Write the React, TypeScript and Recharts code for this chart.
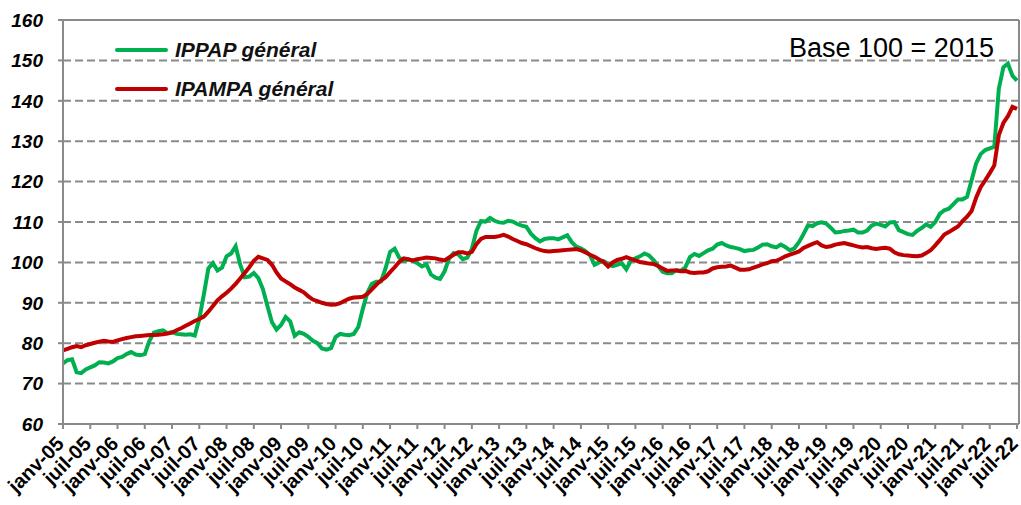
import { CartesianGrid, Line, LineChart, ReferenceLine, XAxis, YAxis } from "recharts";

const FONT = '"Liberation Sans", Arial, sans-serif';

const monthNames = ["janv", "févr", "mars", "avr", "mai", "juin", "juil", "août", "sept", "oct", "nov", "déc"];
const yearSuffixes = ["05", "06", "07", "08", "09", "10", "11", "12", "13", "14", "15", "16", "17", "18", "19", "20", "21", "22"];
const yTicks = [60, 70, 80, 90, 100, 110, 120, 130, 140, 150, 160];

// IPPAP général, monthly from janv-05 to juil-22
const ippap = [
  75.0, 75.8, 76.0, 72.8, 72.6, 73.5, 74.0, 74.5, 75.3, 75.2, 75.0, 75.5, // 2005
  76.3, 76.6, 77.3, 77.8, 77.2, 77.0, 77.3, 80.5, 82.6, 83.0, 83.2, 82.5, // 2006
  82.8, 82.3, 82.2, 82.1, 82.2, 81.9, 86.0, 92.0, 98.5, 99.8, 98.0, 98.7, // 2007
  101.5, 102.2, 104.0, 99.5, 96.3, 96.5, 97.4, 96.1, 93.4, 89.2, 85.2, 83.4, // 2008
  84.5, 86.5, 85.4, 81.8, 82.7, 82.3, 81.6, 80.6, 80.0, 78.7, 78.4, 78.8, // 2009
  81.5, 82.3, 82.1, 82.0, 82.3, 84.0, 88.5, 92.5, 94.7, 95.2, 95.3, 98.5, // 2010
  102.6, 103.4, 101.2, 100.4, 100.7, 100.4, 99.8, 99.0, 99.5, 97.0, 96.2, 95.9, // 2011
  97.8, 101.0, 102.3, 102.0, 100.8, 101.2, 103.3, 107.8, 110.2, 110.1, 111.0, 110.3, // 2012
  109.9, 109.8, 110.3, 110.1, 109.5, 109.1, 108.8, 107.1, 106.0, 105.2, 105.8, 106.0, // 2013
  106.0, 105.7, 106.2, 106.7, 105.0, 103.9, 103.5, 102.8, 101.8, 99.4, 100.0, 100.3, // 2014
  99.6, 99.1, 99.4, 99.8, 98.3, 100.4, 101.0, 101.5, 102.2, 101.7, 100.6, 99.1, // 2015
  97.7, 97.3, 97.3, 98.1, 97.9, 98.8, 101.3, 102.1, 101.6, 102.3, 103.0, 103.4, // 2016
  104.4, 104.8, 104.2, 103.8, 103.6, 103.3, 102.8, 103.0, 103.1, 103.7, 104.4, 104.5, // 2017
  104.0, 103.7, 104.4, 103.8, 103.0, 103.5, 105.0, 107.0, 109.2, 109.0, 109.7, 109.9, // 2018
  109.6, 108.6, 107.4, 107.5, 107.8, 107.9, 108.1, 107.4, 107.4, 107.9, 109.1, 109.6, // 2019
  109.3, 108.9, 109.9, 110.0, 108.0, 107.5, 107.0, 106.8, 107.8, 108.5, 109.4, 108.8, // 2020
  110.0, 112.0, 112.9, 113.3, 114.4, 115.6, 115.6, 116.2, 120.3, 124.5, 126.8, 127.8, // 2021
  128.2, 128.6, 143.0, 148.3, 149.2, 146.2, 145.0, // 2022
];

// IPAMPA général, same months
const ipampa = [
  78.2, 78.6, 79.0, 79.3, 79.0, 79.5, 79.8, 80.1, 80.4, 80.6, 80.4, 80.3, // 2005
  80.7, 81.0, 81.3, 81.5, 81.7, 81.8, 81.9, 82.0, 82.0, 82.1, 82.2, 82.4, // 2006
  82.6, 83.2, 83.7, 84.3, 84.9, 85.5, 86.0, 86.6, 87.8, 89.2, 90.6, 91.6, // 2007
  92.5, 93.5, 94.7, 96.0, 97.4, 98.8, 100.4, 101.4, 101.0, 100.6, 99.4, 97.5, // 2008
  96.0, 95.3, 94.6, 93.8, 93.2, 92.6, 91.6, 90.8, 90.4, 90.0, 89.7, 89.5, // 2009
  89.6, 89.9, 90.5, 91.0, 91.3, 91.4, 91.5, 92.2, 93.3, 94.5, 95.5, 96.3, // 2010
  97.6, 98.8, 100.1, 101.0, 100.8, 100.5, 100.8, 101.0, 101.2, 101.1, 101.0, 100.7, // 2011
  100.5, 101.2, 101.9, 102.5, 102.5, 102.2, 102.6, 104.5, 105.8, 106.3, 106.3, 106.3, // 2012
  106.5, 106.8, 106.4, 105.8, 105.3, 104.8, 104.5, 104.0, 103.5, 103.1, 102.8, 102.7, // 2013
  102.8, 102.9, 103.0, 103.1, 103.2, 103.3, 103.0, 102.5, 101.9, 101.4, 100.7, 100.1, // 2014
  99.0, 100.0, 100.6, 100.9, 101.3, 100.9, 100.5, 100.1, 99.9, 99.7, 99.6, 99.1, // 2015
  98.5, 97.9, 98.0, 98.0, 97.8, 97.9, 97.5, 97.4, 97.5, 97.5, 97.8, 98.5, // 2016
  98.8, 98.9, 99.0, 99.2, 98.7, 98.2, 98.2, 98.3, 98.7, 99.1, 99.5, 99.8, // 2017
  100.3, 100.4, 100.9, 101.5, 101.9, 102.3, 102.7, 103.6, 104.1, 104.6, 105.0, 104.2, // 2018
  103.8, 104.0, 104.4, 104.6, 104.8, 104.5, 104.2, 103.9, 103.7, 103.8, 103.5, 103.3, // 2019
  103.5, 103.6, 103.4, 102.5, 102.0, 101.8, 101.7, 101.6, 101.5, 101.7, 102.3, 103.0, // 2020
  104.2, 105.5, 106.9, 107.5, 108.2, 108.9, 110.2, 111.3, 112.7, 116.0, 118.6, 120.3, // 2021
  122.1, 124.0, 131.5, 134.5, 136.2, 138.5, 138.0, // 2022
];

const categories = yearSuffixes
  .flatMap((yy) => monthNames.map((m) => `${m}-${yy}`))
  .slice(0, ippap.length);

const data = categories.map((month, i) => ({ month, ippap: ippap[i], ipampa: ipampa[i] }));

const legendItems = [
  { label: "IPPAP général", color: "#00B050" },
  { label: "IPAMPA général", color: "#C00000" },
];

const MonthTick = (props: any) => {
  const { x, y, payload } = props;
  return (
    <g transform={`translate(${x + 2},${y + 14})`}>
      <text
        textAnchor="end"
        transform="rotate(-45)"
        fontFamily={FONT}
        fontSize={20}
        fontWeight="bold"
        fill="#000"
      >
        {payload.value}
      </text>
    </g>
  );
};

export default function App() {
  return (
    <div style={{ position: "absolute", left: 0, top: 0, width: 1021, height: 505, background: "#fff" }}>
      <LineChart width={1021} height={505} data={data} margin={{ top: 20, right: 0, bottom: 0, left: 0 }}>
        <CartesianGrid vertical={false} stroke="#8a8a8a" strokeWidth={2} strokeDasharray="8 4" />
        <ReferenceLine y={160} stroke="#8a8a8a" strokeWidth={2} />
        <XAxis
          dataKey="month"
          interval={5}
          height={81}
          padding={{ left: 0, right: 2 }}
          axisLine={{ stroke: "#8a8a8a", strokeWidth: 2 }}
          tickLine={{ stroke: "#8a8a8a", strokeWidth: 2 }}
          tickSize={5}
          tick={<MonthTick />}
        />
        <YAxis
          domain={[60, 160]}
          ticks={yTicks}
          width={63}
          axisLine={{ stroke: "#8a8a8a", strokeWidth: 2 }}
          tickLine={{ stroke: "#8a8a8a", strokeWidth: 2 }}
          tickSize={5}
          tickMargin={15}
          tick={{ fontFamily: FONT, fontSize: 19, fontWeight: "bold", fontStyle: "italic", fill: "#000" }}
        />
        <YAxis
          yAxisId="right"
          orientation="right"
          domain={[60, 160]}
          width={2}
          tick={false}
          tickLine={false}
          axisLine={{ stroke: "#8a8a8a", strokeWidth: 2 }}
        />
        <Line
          type="linear"
          dataKey="ippap"
          name="IPPAP général"
          stroke="#00B050"
          strokeWidth={4}
          dot={false}
          isAnimationActive={false}
        />
        <Line
          type="linear"
          dataKey="ipampa"
          name="IPAMPA général"
          stroke="#C00000"
          strokeWidth={4}
          dot={false}
          isAnimationActive={false}
        />
      </LineChart>
      <div style={{ position: "absolute", left: 115, top: 30, fontFamily: FONT }}>
        {legendItems.map((item) => (
          <div key={item.label} style={{ display: "flex", alignItems: "center", height: 39 }}>
            <span
              style={{ display: "inline-block", width: 53, height: 4, borderRadius: 2, background: item.color, marginRight: 7 }}
            />
            <span style={{ fontSize: 21, fontWeight: "bold", fontStyle: "italic", color: "#111" }}>{item.label}</span>
          </div>
        ))}
      </div>
      <div
        style={{
          position: "absolute",
          left: 789,
          top: 35,
          fontFamily: FONT,
          fontSize: 27,
          lineHeight: 1,
          color: "#000",
          whiteSpace: "nowrap",
        }}
      >
        Base 100 = 2015
      </div>
    </div>
  );
}
